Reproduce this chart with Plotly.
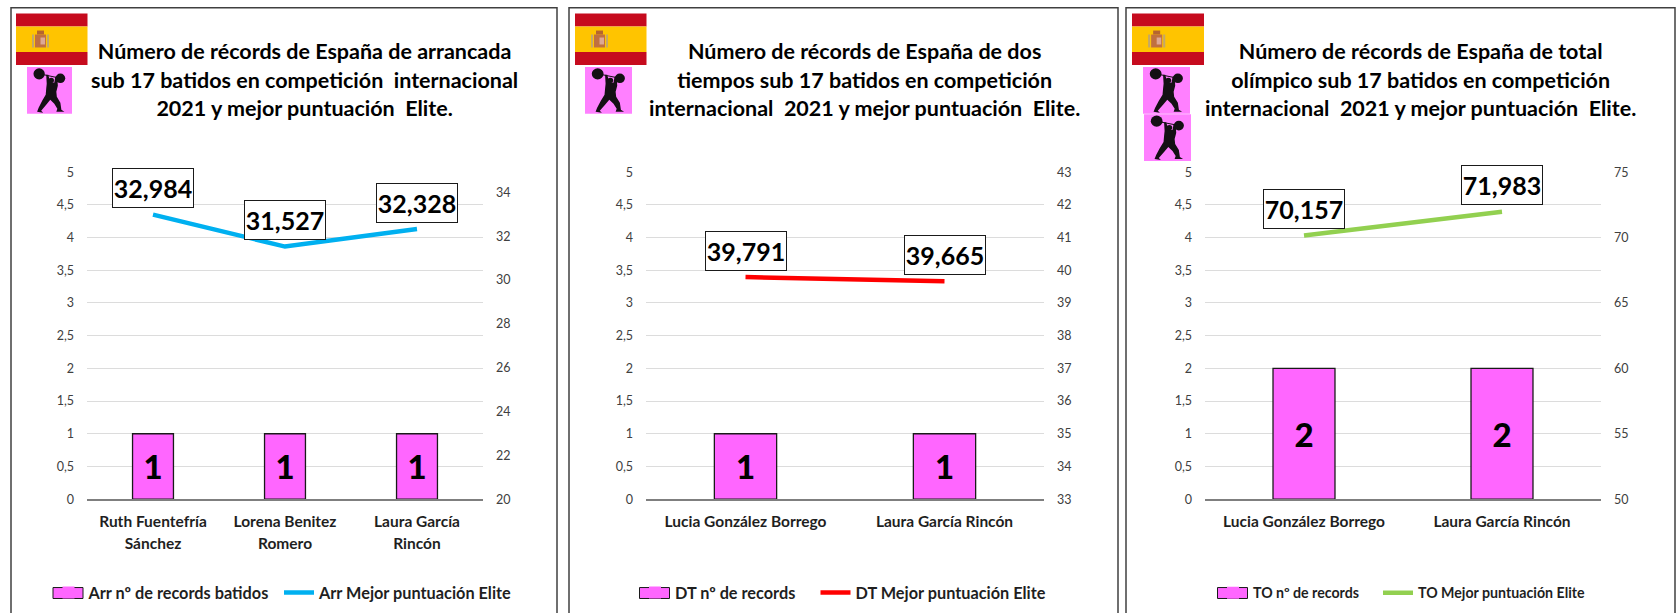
import plotly.graph_objects as go

W, H = 1676, 613
FONT = "Lato"

# ---- data ----
names_arr = ["Ruth Fuentefría<br>Sánchez", "Lorena Benitez<br>Romero", "Laura García<br>Rincón"]
records_arr = [1, 1, 1]
elite_arr = [32.984, 31.527, 32.328]

names_dt = ["Lucia González Borrego", "Laura García Rincón"]
records_dt = [1, 1]
elite_dt = [39.791, 39.665]

names_to = ["Lucia González Borrego", "Laura García Rincón"]
records_to = [2, 2]
elite_to = [70.157, 71.983]

title_arr = "Número de récords de España de arrancada<br>sub 17 batidos en competición  internacional<br>2021 y mejor puntuación  Elite."
title_dt = "Número de récords de España de dos<br>tiempos sub 17 batidos en competición<br>internacional  2021 y mejor puntuación  Elite."
title_to = "Número de récords de España de total<br>olímpico sub 17 batidos en competición<br>internacional  2021 y mejor puntuación  Elite."

# ---- layout per panel (pixels) ----
panels = [
    dict(names=names_arr, rec=records_arr, elite=elite_arr, title=title_arr, color="#00B0F0",
         bar_name="Arr nº de records batidos", line_name="Arr Mejor puntuación Elite",
         frame=(11, 557), plot=(87, 483), tc=304, rng=(20, 34.92), dt=2, flag=16, flag_w=71.5,
         icons=[(27, 64.5, 45)], bw=0.31, lx=(48.5, 279), lfs=16.3),
    dict(names=names_dt, rec=records_dt, elite=elite_dt, title=title_dt, color="#FF0000",
         bar_name="DT nº de records", line_name="DT Mejor puntuación Elite",
         frame=(569, 1118), plot=(646, 1044), tc=864, rng=(33, 43), dt=1, flag=575, flag_w=71.5,
         icons=[(585, 64.5, 47)], bw=0.313, lx=(635, 815.5), lfs=16.3),
    dict(names=names_to, rec=records_to, elite=elite_to, title=title_to, color="#92D050",
         bar_name="TO nº de records", line_name="TO Mejor puntuación Elite",
         frame=(1126, 1675), plot=(1205, 1601), tc=1420, rng=(50, 75), dt=5, flag=1132, flag_w=72,
         icons=[(1143, 64.5, 47), (1144, 112, 47)], bw=0.313, lx=(1213, 1378), lfs=14.2),
]

PLOT_TOP, PLOT_BOTTOM = 170.3, 498.7


def px(x):
    return x / W


def py(y):
    return 1 - (1.0205 * y - 5.46) / H


def rect(x0, y0, x1, y1, fill, line=None, lw=0):
    return dict(type="rect", xref="paper", yref="paper", x0=px(x0), x1=px(x1), y0=py(y0), y1=py(y1),
                fillcolor=fill, line=dict(color=line or fill, width=lw), layer="above")


def poly(points, fill, ox, oy, k):
    d = "M" + "L".join(f"{px(ox + a * k):.5f},{py(oy + b):.5f}" for a, b in points) + "Z"
    return dict(type="path", xref="paper", yref="paper", path=d, fillcolor=fill, line=dict(width=0), layer="above")


def disc(cx, cy, r, fill, ox, oy, k):
    return dict(type="circle", xref="paper", yref="paper", x0=px(ox + (cx - r) * k), x1=px(ox + (cx + r) * k),
                y0=py(oy + cy + r), y1=py(oy + cy - r), fillcolor=fill, line=dict(width=0), layer="above")


def lifter(ox, oy, w):
    c = "#141014"
    k = w / 44.5
    out = [rect(ox, oy, ox + w, oy + 47, "#FF80FF")]
    out += [disc(12, 7, 5.6, c, ox, oy, k), disc(33, 11.5, 4.8, c, ox, oy, k)]
    out.append(poly([(12, 6.5), (33, 11), (33, 12), (12, 7.5)], c, ox, oy, k))
    out.append(poly([(19, 8), (21, 8), (23, 15), (27, 16), (28, 10), (30, 10), (30.5, 19), (29, 25), (29.5, 30),
                     (33, 36), (34, 43), (37, 45), (29, 45), (30, 42), (27, 37), (23, 33), (19, 38), (14, 44),
                     (16, 46), (10, 45), (11.5, 41), (15, 34), (18.5, 28), (19, 22), (19.5, 17)], c, ox, oy, k))
    out.append(disc(24, 13.5, 2.7, c, ox, oy, k))
    return out


def flag(ox, w):
    s = w / 71.5
    out = [rect(ox, 11, ox + w, 24, "#C60B1E"), rect(ox, 24, ox + w, 49.5, "#FFC400"), rect(ox, 49.5, ox + w, 62.5, "#C60B1E")]
    out += [rect(ox + 16 * s, 32, ox + 18 * s, 45, "#C2A86A"), rect(ox + 31 * s, 32, ox + 33 * s, 45, "#C2A86A"),
            rect(ox + 21 * s, 28, ox + 28 * s, 32, "#B5652F"), rect(ox + 19 * s, 32, ox + 30 * s, 45, "#C0703F"),
            rect(ox + 24.5 * s, 35, ox + 29 * s, 42, "#DDA894")]
    return out


fig = go.Figure()
shapes, annotations = [], []
layout_axes = {}

for i, p in enumerate(panels):
    n = i * 2 + 1
    xname, y1name, y2name = f"x{n}", f"y{n}", f"y{n + 1}"
    legend_a = "legend" if i == 0 else f"legend{i * 2 + 1}"
    legend_b = f"legend{i * 2 + 2}"

    fig.add_trace(go.Bar(
        x=p["names"], y=p["rec"], name=p["bar_name"], xaxis=xname, yaxis=y1name, showlegend=False,
        width=p["bw"], marker=dict(color="#FF66FF", line=dict(color="#1A1A1A", width=1.3)),
        text=[str(v) for v in p["rec"]], textposition="inside", insidetextanchor="middle", textangle=0,
        textfont=dict(family=FONT, size=33, color="black", weight=900), cliponaxis=False))
    # legend entry for the bars: flat swatch, its outlined box is a shape drawn below it
    fig.add_trace(go.Bar(
        x=p["names"], y=[None] * len(p["names"]), name=p["bar_name"], xaxis=xname, yaxis=y1name, legend=legend_a,
        width=p["bw"], marker=dict(color="#FF66FF", line=dict(width=0))))
    fig.add_trace(go.Scatter(
        x=p["names"], y=p["elite"], name=p["line_name"], xaxis=xname, yaxis=y2name, legend=legend_b,
        mode="lines", line=dict(color=p["color"], width=4.5)))

    x0, x1 = p["plot"]
    sfx = "" if i == 0 else str(n)
    sfx2 = str(n + 1)
    layout_axes[f"xaxis{sfx}"] = dict(
        domain=[px(x0), px(x1)], anchor=y1name, showgrid=False, showline=True, linecolor="#7F7F7F", linewidth=1.5,
        ticks="", zeroline=False, tickmode="array", tickvals=p["names"],
        ticktext=[f'<span style="font-size:15.5px">{t}</span>' for t in p["names"]],
        tickfont=dict(family=FONT, size=17, color="#1F1F1F", weight="bold"), ticklabelstandoff=6, tickangle=0)
    layout_axes[f"yaxis{sfx}"] = dict(
        domain=[py(PLOT_BOTTOM), py(PLOT_TOP)], anchor=xname, range=[0, 5], dtick=0.5, tick0=0, showgrid=True,
        gridcolor="#DCDCDC", gridwidth=1.3, zeroline=False, ticks="", ticklabelstandoff=12,
        tickfont=dict(family=FONT, size=12.5, color="#404040"))
    layout_axes[f"yaxis{sfx2}"] = dict(
        domain=[py(PLOT_BOTTOM), py(PLOT_TOP)], anchor=xname, overlaying=y1name, side="right", range=list(p["rng"]),
        dtick=p["dt"], tick0=p["rng"][0], showgrid=False, zeroline=False, ticks="", ticklabelstandoff=12,
        tickfont=dict(family=FONT, size=12.5, color="#404040"))

    for leg, lx in zip((legend_a, legend_b), p["lx"]):
        layout_axes[leg] = dict(
            x=px(lx), y=py(593), xanchor="left", yanchor="middle", orientation="h",
            font=dict(family=FONT, size=p["lfs"], color="#1F1F1F", weight="bold"), bgcolor="rgba(0,0,0,0)",
            itemwidth=30)

    # frame, icons
    shapes.append(dict(type="rect", xref="paper", yref="paper", x0=px(p["frame"][0]), x1=px(p["frame"][1]),
                       y0=py(5), y1=py(630), line=dict(color="#404040", width=1.5), fillcolor="rgba(0,0,0,0)", layer="above"))
    shapes += flag(p["flag"], p["flag_w"])
    for ox, oy, w in p["icons"]:
        shapes += lifter(ox, oy, w)
    shapes.append(rect(p["lx"][0] + 4.5, 587.5, p["lx"][0] + 34.5, 598.5, "#FF66FF", "#1A1A1A", 1))

    # title
    annotations.append(dict(
        xref="paper", yref="paper", x=px(p["tc"]), y=py(33), xanchor="center", yanchor="top", showarrow=False, align="center",
        text="<br>".join(f'<span style="font-size:21.5px">{t}</span>' for t in p["title"].split("<br>")),
        font=dict(family=FONT, size=22, color="black", weight="bold")))

    # value labels on the line
    for name, v in zip(p["names"], p["elite"]):
        annotations.append(dict(
            xref=xname, yref=y2name, x=name, y=v, yshift=26.5, showarrow=False, text=f"{v:.3f}".replace(".", ","),
            font=dict(family=FONT, size=25, color="black", weight="bold"), bgcolor="white", bordercolor="#1A1A1A",
            borderwidth=1, width=80, height=38, borderpad=0, align="center", valign="middle"))

fig.update_layout(
    width=W, height=H, autosize=False, margin=dict(l=0, r=0, t=0, b=0), paper_bgcolor="white", plot_bgcolor="white",
    separators=", ", barmode="overlay", shapes=shapes, annotations=annotations, showlegend=True, **layout_axes)

fig.write_html("out.html", config=dict(displayModeBar=False),
               post_script="document.body.style.margin='0';document.documentElement.style.overflow='hidden';")
